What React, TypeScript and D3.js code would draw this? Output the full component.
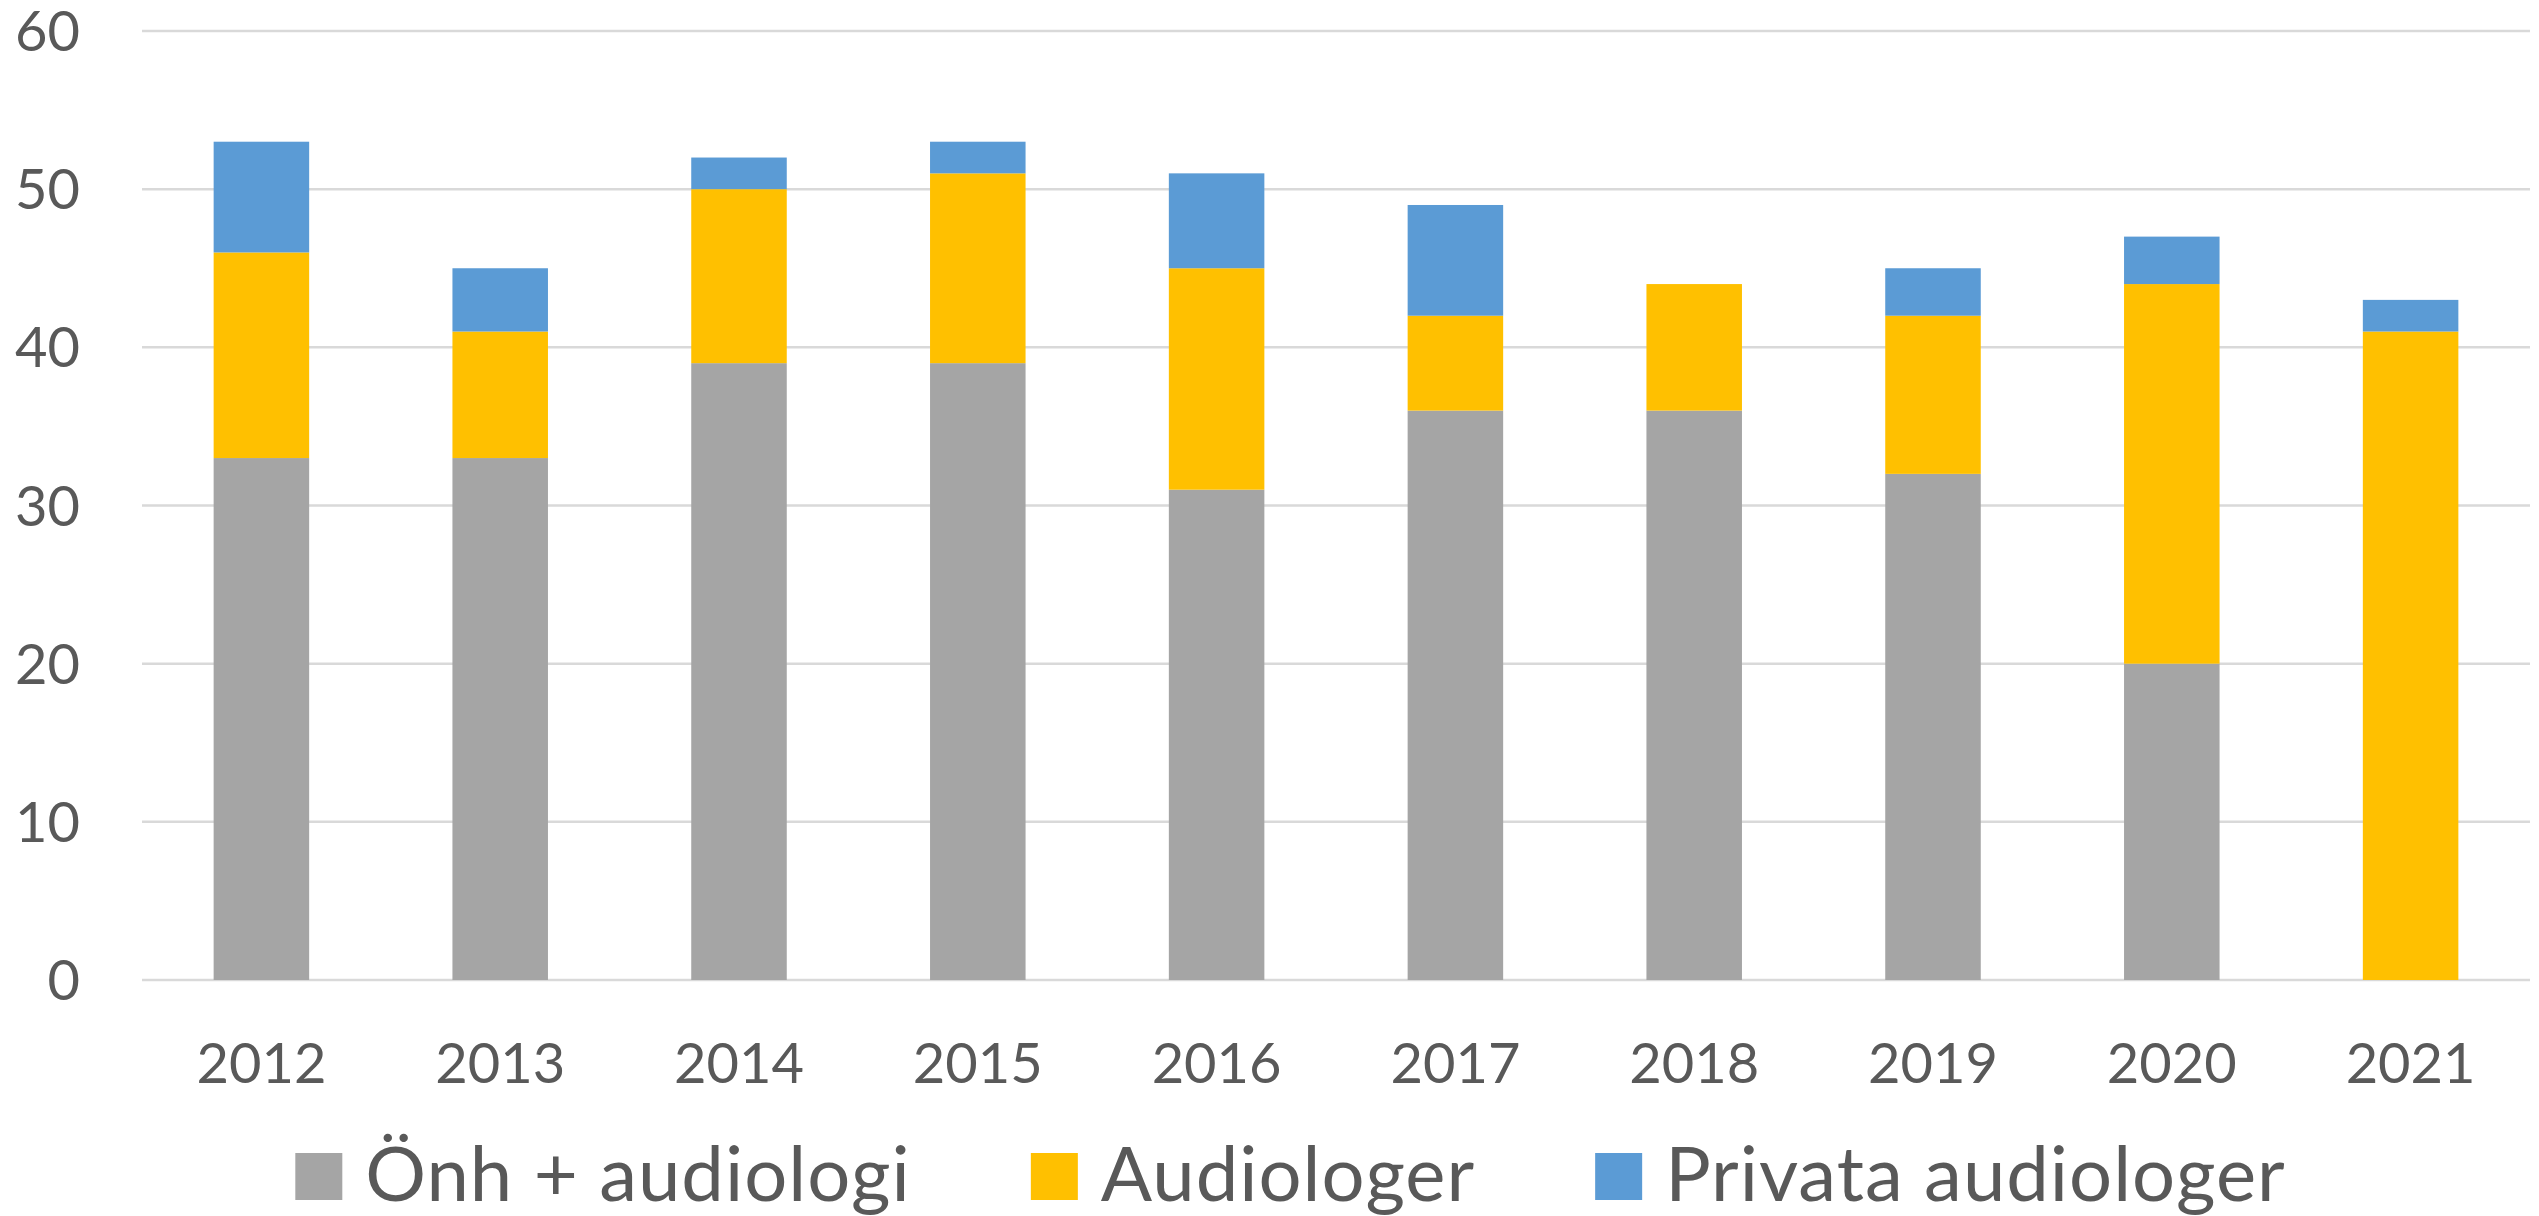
import * as d3 from 'd3';
import { useEffect, useRef } from 'react';

const years = ['2012', '2013', '2014', '2015', '2016', '2017', '2018', '2019', '2020', '2021'];
const seriesNames = ['Önh + audiologi', 'Audiologer', 'Privata audiologer'];
const onhAudiologi = [33, 33, 39, 39, 31, 36, 36, 32, 20, 0];
const audiologer = [13, 8, 11, 12, 14, 6, 8, 10, 24, 41];
const privataAudiologer = [7, 4, 2, 2, 6, 7, 0, 3, 3, 2];
const yTicks = [0, 10, 20, 30, 40, 50, 60];
const colors = ['#A5A5A5', '#FFC000', '#5B9BD5'];

const W = 2539;
const H = 1216;
const FONT = 'Lato, Carlito, Calibri, sans-serif';
const TEXT = '#595959';

export default function App() {
  const ref = useRef<SVGSVGElement>(null);

  useEffect(() => {
    const svg = d3.select(ref.current);
    svg.selectAll('*').remove();

    const margin = { top: 31, right: 9, bottom: 236, left: 142 };
    const x = d3.scaleBand()
      .domain(years)
      .range([margin.left, W - margin.right])
      .paddingInner(0.6)
      .paddingOuter(0.3);
    const y = d3.scaleLinear().domain([0, 60]).range([H - margin.bottom, margin.top]);

    // gridlines
    svg.append('g')
      .selectAll('line')
      .data(yTicks)
      .enter()
      .append('line')
      .attr('x1', margin.left)
      .attr('x2', W - margin.right)
      .attr('y1', d => y(d))
      .attr('y2', d => y(d))
      .attr('stroke', '#D9D9D9')
      .attr('stroke-width', 2.5);

    // y labels
    svg.append('g')
      .selectAll('text')
      .data(yTicks)
      .enter()
      .append('text')
      .attr('x', 80)
      .attr('y', d => y(d))
      .attr('dy', '0.36em')
      .attr('text-anchor', 'end')
      .style('font-family', FONT)
      .style('font-size', '56px')
      .attr('fill', TEXT)
      .text(d => d);

    // stacked bars
    const rows = years.map((yr, i) => ({
      year: yr,
      s0: onhAudiologi[i],
      s1: audiologer[i],
      s2: privataAudiologer[i],
    }));
    const stack = d3.stack<any>().keys(['s0', 's1', 's2'])(rows);

    stack.forEach((layer, li) => {
      svg.append('g')
        .selectAll('rect')
        .data(layer)
        .enter()
        .append('rect')
        .attr('x', d => x(d.data.year)!)
        .attr('width', x.bandwidth())
        .attr('y', d => y(d[1]))
        .attr('height', d => y(d[0]) - y(d[1]))
        .attr('fill', colors[li]);
    });

    // x labels
    svg.append('g')
      .selectAll('text')
      .data(years)
      .enter()
      .append('text')
      .attr('x', d => x(d)! + x.bandwidth() / 2)
      .attr('y', 1083)
      .attr('text-anchor', 'middle')
      .style('font-family', FONT)
      .style('font-size', '56px')
      .attr('fill', TEXT)
      .text(d => d);

    // legend, centred as a group
    const legend = svg.append('g');
    const sq = 47;
    const gapText = 23;
    const gapItem = 120;
    let cx = 0;
    seriesNames.forEach((name, i) => {
      const item = legend.append('g').attr('transform', `translate(${cx},0)`);
      item.append('rect')
        .attr('x', 0)
        .attr('y', 1153)
        .attr('width', sq)
        .attr('height', sq)
        .attr('fill', colors[i]);
      const t = item.append('text')
        .attr('x', sq + gapText)
        .attr('y', 1201)
        .style('font-family', FONT)
        .style('font-size', '76px')
        .style('letter-spacing', '1px')
        .attr('fill', TEXT)
        .text(name);
      const w = (t.node() as SVGTextElement).getComputedTextLength();
      cx += sq + gapText + w + gapItem;
    });
    const total = cx - gapItem;
    legend.attr('transform', `translate(${1290.5 - total / 2},0)`);
  }, []);

  return (
    <svg
      ref={ref}
      width={W}
      height={H}
      style={{ position: 'absolute', left: 0, top: 0, background: '#fff' }}
    />
  );
}
